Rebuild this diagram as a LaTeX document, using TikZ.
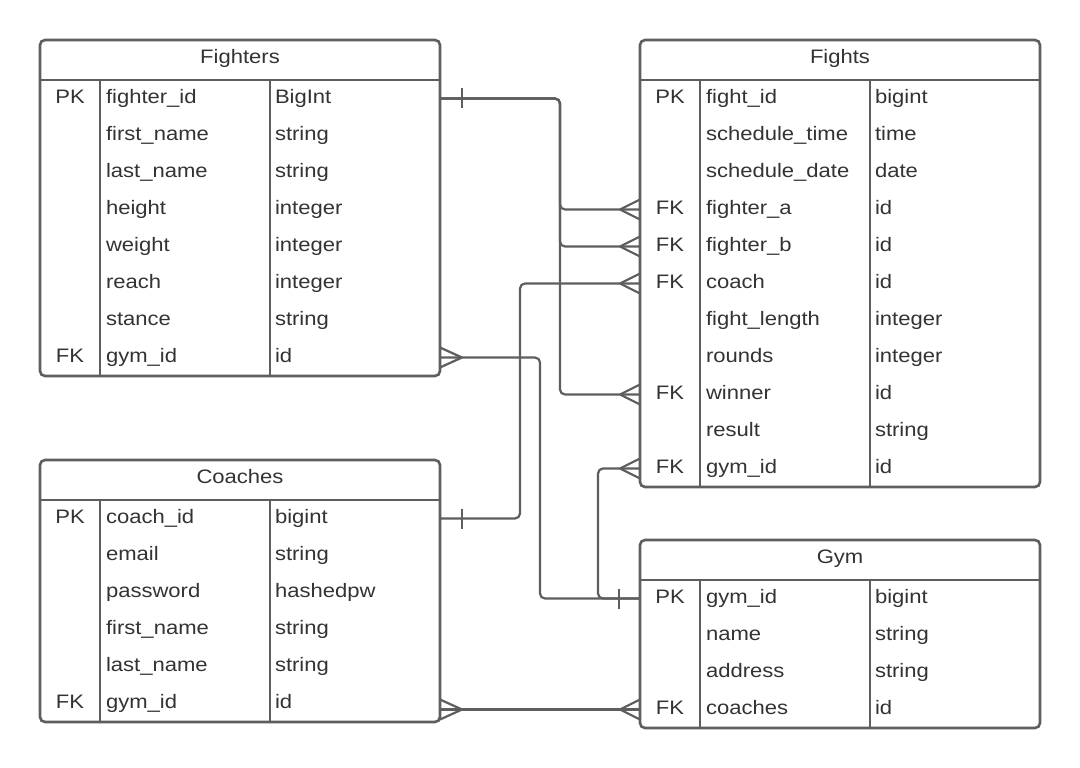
\documentclass[tikz,border=0pt]{standalone}
\usepackage{fontspec}
\setmainfont[FakeStretch=1.13]{Liberation Sans}
\usetikzlibrary{calc}
\definecolor{linegray}{HTML}{5E5E5E}
\definecolor{textgray}{HTML}{333333}
\tikzset{
  txt/.style={inner sep=0pt, outer sep=0pt, text=textgray, font=\fontsize{19.5}{23}\selectfont},
  rowbox/.style={draw=none, minimum width=400pt, minimum height=37pt, inner sep=0pt, outer sep=0pt},
  frame/.style={draw=linegray, line width=2.6pt},
  conn/.style={draw=linegray, line width=2.2pt, rounded corners=5pt},
  tickline/.style={draw=linegray, line width=2.2pt}
}
\newcommand{\ertable}[6]{%
  \node[txt, anchor=base] (#1-title) at ({#2+200},{#3+23.5}) {#4};
  \foreach \k/\n/\t [count=\i from 0] in {#6} {
    \node[rowbox] (#1-\i) at ({#2+200},{#3+58.5+37*\i}) {};
    \node[txt, anchor=base] at ({#2+30},{#3+63.3+37*\i}) {\k};
    \node[txt, anchor=base west] at ({#2+66},{#3+63.3+37*\i}) {\n};
    \node[txt, anchor=base west] at ({#2+235},{#3+63.3+37*\i}) {\t};
  }
  \draw[frame, rounded corners=5pt] (#2,#3) rectangle ({#2+400},{#3+40+37*#5});
  \draw[frame] (#2,{#3+40}) -- ({#2+400},{#3+40});
  \draw[frame] ({#2+60},{#3+40}) -- ({#2+60},{#3+40+37*#5});
  \draw[frame] ({#2+230},{#3+40}) -- ({#2+230},{#3+40+37*#5});
}
% crow's foot on a left edge (line arrives from the left)
\newcommand{\crowW}[1]{\draw[tickline] ([xshift=-20pt]#1) -- ([yshift=10pt]#1) ([xshift=-20pt]#1) -- ([yshift=-10pt]#1);}
% crow's foot on a right edge (line arrives from the right)
\newcommand{\crowE}[1]{\draw[tickline] ([xshift=22pt]#1) -- ([yshift=10pt]#1) ([xshift=22pt]#1) -- ([yshift=-10pt]#1);}
% bar at a given offset
\newcommand{\barmark}[2]{\draw[tickline] ([xshift=#1,yshift=10pt]#2) -- ([xshift=#1,yshift=-10pt]#2);}
\begin{document}
\begin{tikzpicture}[x=1pt,y=-1pt]
\useasboundingbox[fill=white] (0,0) rectangle (1080,768);

\ertable{fighters}{40}{40}{Fighters}{8}{PK/fighter\_id/BigInt, /first\_name/string, /last\_name/string, /height/integer, /weight/integer, /reach/integer, /stance/string, FK/gym\_id/id}
\ertable{fights}{640}{40}{Fights}{11}{PK/fight\_id/bigint, /schedule\_time/time, /schedule\_date/date, FK/fighter\_a/id, FK/fighter\_b/id, FK/coach/id, /fight\_length/integer, /rounds/integer, FK/winner/id, /result/string, FK/gym\_id/id}
\ertable{coaches}{40}{460}{Coaches}{6}{PK/coach\_id/bigint, /email/string, /password/hashedpw, /first\_name/string, /last\_name/string, FK/gym\_id/id}
\ertable{gym}{640}{540}{Gym}{4}{PK/gym\_id/bigint, /name/string, /address/string, FK/coaches/id}

% fighters.fighter_id -> fights.fighter_a / fighter_b / winner
\draw[conn] (fighters-0.east) -- ++(120,0) |- (fights-3.west);
\draw[conn] (fighters-0.east) -- ++(120,0) |- (fights-4.west);
\draw[conn] (fighters-0.east) -- ++(120,0) |- (fights-8.west);
\barmark{22pt}{fighters-0.east}
\crowW{fights-3.west}
\crowW{fights-4.west}
\crowW{fights-8.west}

% coaches.coach_id -> fights.coach
\draw[conn] (coaches-0.east) -- ++(80,0) |- (fights-5.west);
\barmark{22pt}{coaches-0.east}
\crowW{fights-5.west}

% fighters.gym_id -> gym.gym_id
\draw[conn] (fighters-7.east) -- ++(100,0) |- (gym-0.west);
\crowE{fighters-7.east}
% fights.gym_id -> gym.gym_id
\draw[conn] (fights-10.west) -- ++(-42,0) |- (gym-0.west);
\crowW{fights-10.west}
\barmark{-21pt}{gym-0.west}

% coaches.gym_id -> gym.coaches
\coordinate (cgym) at (coaches-5.east |- gym-3.west);
\draw[conn] (cgym) -- (gym-3.west);
\crowE{cgym}
\crowW{gym-3.west}
\end{tikzpicture}
\end{document}
